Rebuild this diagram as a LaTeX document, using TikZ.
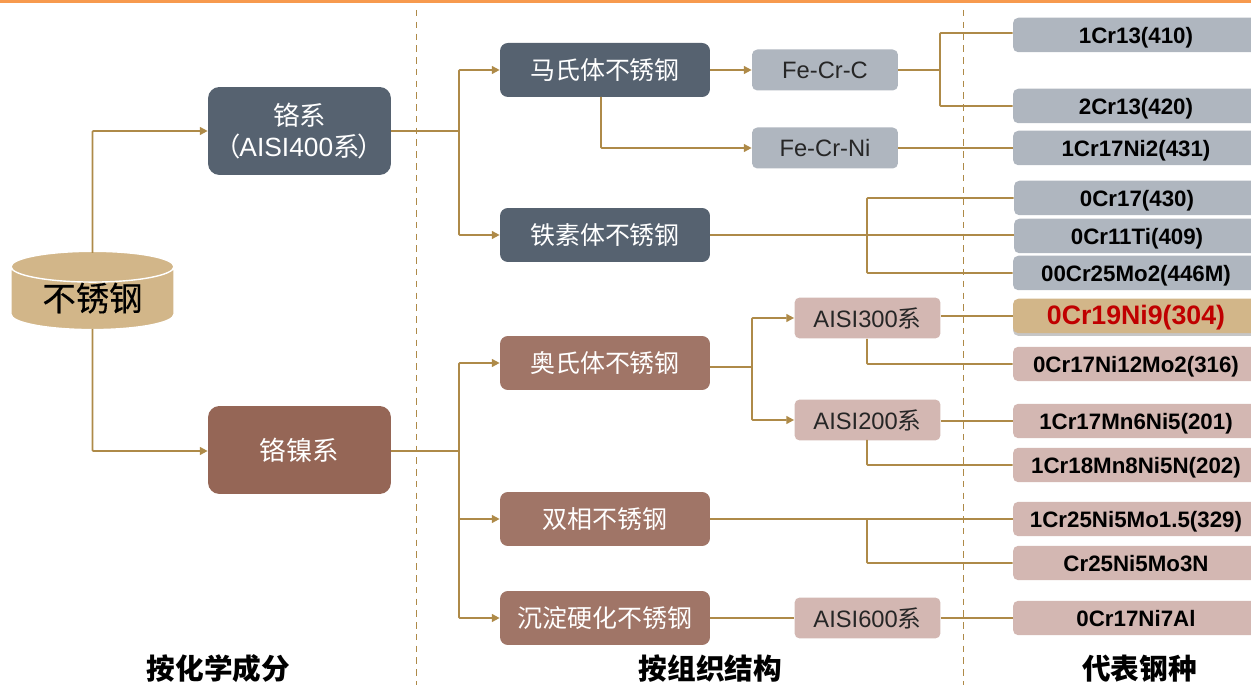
\documentclass[tikz,border=0pt]{standalone}
\usepackage{fontspec}
\setmainfont{Liberation Sans}
\newfontfamily\cjk{Noto Sans CJK SC}
\newfontfamily\cjkheavy[FakeBold=0.4]{Noto Sans CJK SC}
\usetikzlibrary{arrows.meta,shapes.geometric,shadows}
\definecolor{linegold}{HTML}{AE8A48}
\definecolor{topline}{HTML}{F79A4E}
\definecolor{sand}{HTML}{D2B689}
\definecolor{slate}{HTML}{566270}
\definecolor{umber}{HTML}{956656}
\definecolor{steel}{HTML}{AFB6BF}
\definecolor{blush}{HTML}{D3B7B2}
\definecolor{alert}{HTML}{C00000}
\tikzset{
  every node/.style={inner sep=0pt,align=center},
  topbox/.style={rounded corners=6.5pt,text=white,font=\fontsize{15}{18}\selectfont,minimum width=3.66cm,minimum height=1.76cm},
  midbox/.style={rounded corners=4.5pt,text=white,font=\fontsize{14.2}{16}\selectfont,minimum width=4.2cm,minimum height=1.08cm},
  subbox/.style={rounded corners=3pt,text=black!85,font=\fontsize{13.5}{16}\selectfont,minimum width=2.92cm,minimum height=0.82cm},
  gradebox/.style={rounded corners=3pt,text=black,font=\bfseries\fontsize{12.7}{14}\selectfont,minimum width=4.92cm,minimum height=0.69cm,text height=11pt,text depth=1pt},
  headlabel/.style={font=\cjk\bfseries\fontsize{16.3}{18}\selectfont},
  link/.style={draw=linegold,line width=1pt,rounded corners=0.5pt},
  arrowlink/.style={link,-{Triangle[length=4.5pt,width=4.5pt]}},
  divider/.style={draw=linegold,line width=1.1pt,dash pattern=on 3.7pt off 3pt}
}
\begin{document}
\begin{tikzpicture}[x=0.02cm,y=-0.02cm]
  \clip (0,0) rectangle (1251,685);
  \fill[topline] (0,0) rectangle (1251,3.5);
  \draw[divider] (416.5,10) -- (416.5,685);
  \draw[divider] (963.5,10) -- (963.5,685);
  \draw
    (92.5,298.5) node[cylinder,shape border rotate=90,aspect=0.307,minimum width=3.26cm,minimum height=1.46cm,
      cylinder uses custom fill,cylinder end fill=sand,cylinder body fill=sand,draw=white,line width=0.8pt,
      font=\cjkheavy\fontsize{19}{22}\selectfont] (steel){\raisebox{2pt}{不锈钢}}
    (299.5,131) node[topbox,fill=slate] (chrome){{\cjk 铬系}\\{\cjk （}\kern-1pt AISI400{\cjk 系}\kern-1pt{\cjk ）}}
    (299.5,450) node[topbox,fill=umber] (chromenickel){\cjk 铬镍系}
    (605,70) node[midbox,fill=slate] (martensite){\cjk 马氏体不锈钢}
    (605,235) node[midbox,fill=slate] (ferrite){\cjk 铁素体不锈钢}
    (605,363) node[midbox,fill=umber!90!white] (austenite){\cjk 奥氏体不锈钢}
    (605,519) node[midbox,fill=umber!90!white] (duplex){\cjk 双相不锈钢}
    (605,618) node[midbox,fill=umber!90!white] (hardening){\cjk 沉淀硬化不锈钢}
    (825,70) node[subbox,fill=steel] (fecrc){Fe-Cr-C}
    (825,148) node[subbox,fill=steel] (fecrni){Fe-Cr-Ni}
    (867.5,318) node[subbox,fill=blush] (aisi300){AISI300{\cjk 系}}
    (867.5,420) node[subbox,fill=blush] (aisi200){AISI200{\cjk 系}}
    (867.5,618) node[subbox,fill=blush] (aisi600){AISI600{\cjk 系}}
    (1136,35) node[gradebox,fill=steel] (g410){1Cr13(410)}
    (1136,106) node[gradebox,fill=steel] (g420){2Cr13(420)}
    (1136,148) node[gradebox,fill=steel] (g431){1Cr17Ni2(431)}
    (1137,198) node[gradebox,fill=steel] (g430){0Cr17(430)}
    (1137,236) node[gradebox,fill=steel] (g409){0Cr11Ti(409)}
    (1136,273) node[gradebox,fill=steel] (g446){00Cr25Mo2(446M)}
    (1136,316) node[gradebox,fill=sand,drop shadow={shadow xshift=0pt,shadow yshift=-1.5pt,opacity=0.45},text=alert,
      font=\bfseries\fontsize{15.2}{16}\selectfont] (g304){0Cr19Ni9(304)}
    (1136,364) node[gradebox,fill=blush] (g316){0Cr17Ni12Mo2(316)}
    (1136,421) node[gradebox,fill=blush] (g201){1Cr17Mn6Ni5(201)}
    (1136,465) node[gradebox,fill=blush] (g202){1Cr18Mn8Ni5N(202)}
    (1136,519) node[gradebox,fill=blush] (g329){1Cr25Ni5Mo1.5(329)}
    (1136,563) node[gradebox,fill=blush] (g3n){Cr25Ni5Mo3N}
    (1136,618) node[gradebox,fill=blush] (g7al){0Cr17Ni7Al}
    (218.5,669) node[headlabel] (bychem){按化学成分}
    (710.5,669) node[headlabel] (bystruct){按组织结构}
    (1139.5,669) node[headlabel] (bygrade){代表钢种};
  \coordinate (split1) at (459,131);
  \coordinate (split2) at (459,451);
  \coordinate (split3) at (940,70);
  \coordinate (split4) at (867,235);
  \coordinate (split5) at (752,367);
  \coordinate (split6) at (867,339);
  \coordinate (split7) at (867,440);
  \coordinate (split8) at (867,519);
  \coordinate (split9) at (601,97);
  \begin{scope}[arrowlink]
    \draw (92.5,253) |- (chrome.west |- split1);
    \draw (92.5,329) |- (chromenickel.west |- split2);
    \draw (split1) |- (martensite.west);
    \draw (split1) |- (ferrite.west);
    \draw (split2) |- (austenite.west);
    \draw (split2) |- (duplex.west);
    \draw (split2) |- (hardening.west);
    \draw (martensite.east) -- (fecrc.west);
    \draw (split9) |- (fecrni.west);
    \draw (split5) |- (aisi300.west);
    \draw (split5) |- (aisi200.west);
  \end{scope}
  \begin{scope}[link]
    \draw (chrome.east |- split1) -- (split1);
    \draw (chromenickel.east |- split2) -- (split2);
    \draw (fecrc.east) -- (split3);
    \draw (split3) |- ([yshift=1.1pt]g410.west);
    \draw (split3) |- (g420.west);
    \draw (fecrni.east) -- (g431.west);
    \draw (ferrite.east) -- (g409.west |- ferrite);
    \draw (split4) |- (g430.west);
    \draw (split4) |- (g446.west);
    \draw (austenite.east |- split5) -- (split5);
    \draw (aisi300.east |- g304) -- (g304.west);
    \draw (split6) |- (g316.west);
    \draw (aisi200.east |- g201) -- (g201.west);
    \draw (split7) |- (g202.west);
    \draw (duplex.east) -- (g329.west);
    \draw (split8) |- (g3n.west);
    \draw (hardening.east) -- (aisi600.west);
    \draw (aisi600.east) -- (g7al.west);
  \end{scope}
\end{tikzpicture}
\end{document}
